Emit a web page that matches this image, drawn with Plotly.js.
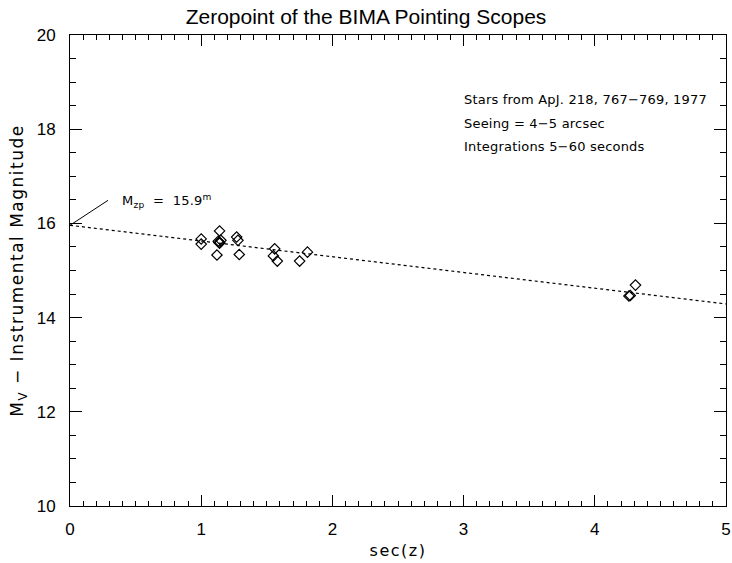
<!DOCTYPE html>
<html>
<head>
<meta charset="utf-8">
<script src="https://cdn.plot.ly/plotly-3.0.1.min.js"></script>
<style>
html,body{margin:0;padding:0;background:#fff;}
#chart{width:732px;height:563px;}
#chart .g-ytitle text, #chart .g-xtitle text{letter-spacing:1.5px;}
#chart .annotation-text{letter-spacing:0.2px;}
</style>
</head>
<body>
<div id="chart"></div>
<script>
// Observed stars: airmass sec(z) and Mv - instrumental magnitude
var secz = [1.00, 1.00, 1.14, 1.13, 1.14, 1.15, 1.14, 1.12, 1.27, 1.28, 1.29, 1.56, 1.55, 1.58, 1.75, 1.81, 4.31, 4.27, 4.26];
var dmag = [15.67, 15.56, 15.84, 15.62, 15.60, 15.64, 15.58, 15.33, 15.71, 15.64, 15.34, 15.46, 15.31, 15.20, 15.20, 15.39, 14.69, 14.47, 14.46];
// Linear fit endpoints
var fitX = [0, 5];
var fitY = [15.96, 14.29];
// Zeropoint label pointer
var zpX = [0, 0.29];
var zpY = [15.96, 16.49];
var zpLabel = 'M<sub>zp</sub>  =  15.9<sup>m</sup>';
var notes = ['Stars from ApJ. 218, 767\u2212769, 1977', 'Seeing = 4\u22125 arcsec', 'Integrations 5\u221260 seconds'];
var notesY = [18.63, 18.12, 17.63];

var font = 'Liberation Sans, DejaVu Sans, sans-serif';
var wfont = 'DejaVu Sans, sans-serif';
var traces = [
  {x: fitX, y: fitY, mode: 'lines', line: {color: 'black', width: 1.2, dash: 'dot'}, hoverinfo: 'skip'},
  {x: zpX, y: zpY, mode: 'lines', line: {color: 'black', width: 1}, hoverinfo: 'skip'},
  {x: secz, y: dmag, mode: 'markers', marker: {symbol: 'diamond-open', size: 8, color: 'black', line: {width: 1.2, color: 'black'}}}
];
var annotations = notes.map(function(t, i) {
  return {x: 2.99, y: notesY[i], xref: 'x', yref: 'y', text: t, showarrow: false, xanchor: 'left', align: 'left', yanchor: 'middle', font: {family: wfont, size: 13, color: 'black'}};
});
annotations.push({x: 0.38, y: 16.47, xref: 'x', yref: 'y', text: zpLabel, showarrow: false, xanchor: 'left', align: 'left', yanchor: 'middle', font: {family: wfont, size: 13, color: 'black'}});

var layout = {
  width: 732, height: 563,
  margin: {l: 70, r: 6, t: 35, b: 57},
  paper_bgcolor: 'white', plot_bgcolor: 'white',
  showlegend: false,
  font: {family: font, color: 'black'},
  title: {text: 'Zeropoint of the BIMA Pointing Scopes', x: 0.5, xanchor: 'center', y: 0.97, yanchor: 'middle', font: {family: font, size: 21, color: 'black'}},
  xaxis: {
    range: [0, 5], dtick: 1, tick0: 0, ticks: 'inside', ticklen: 11, tickwidth: 1, tickcolor: 'black',
    showline: true, linecolor: 'black', linewidth: 1, mirror: 'ticks', showgrid: false, zeroline: false,
    minor: {dtick: 0.1, ticks: 'inside', ticklen: 5, tickwidth: 1, tickcolor: 'black', showgrid: false},
    tickfont: {family: font, size: 17, color: 'black'}, ticklabelstandoff: 8,
    title: {text: 'sec(z)', font: {family: wfont, size: 16, color: 'black'}, standoff: 6}
  },
  yaxis: {
    range: [10, 20], dtick: 2, tick0: 10, ticks: 'inside', ticklen: 12, tickwidth: 1, tickcolor: 'black',
    showline: true, linecolor: 'black', linewidth: 1, mirror: 'ticks', showgrid: false, zeroline: false,
    minor: {dtick: 0.5, ticks: 'inside', ticklen: 6, tickwidth: 1, tickcolor: 'black', showgrid: false},
    tickfont: {family: font, size: 17, color: 'black'}, ticklabelstandoff: 10,
    title: {text: 'M<sub>V</sub> \u2212 Instrumental Magnitude', font: {family: wfont, size: 17, color: 'black'}, standoff: 8}
  },
  annotations: annotations
};
Plotly.newPlot('chart', traces, layout, {displayModeBar: false, staticPlot: true});
</script>
</body>
</html>
